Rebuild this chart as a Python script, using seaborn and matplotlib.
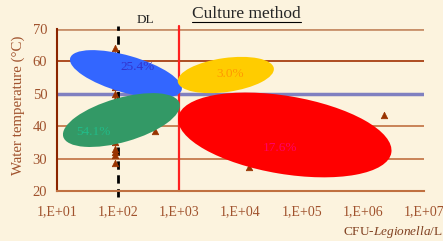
import matplotlib
matplotlib.use('Agg')
import numpy as np
import pandas as pd
import matplotlib.pyplot as plt
import seaborn as sns
from matplotlib.patches import Ellipse
from matplotlib.transforms import ScaledTranslation
from matplotlib.ticker import FixedLocator, MultipleLocator, FuncFormatter

# samples: CFU-Legionella/L vs water temperature
cfu = [90, 90, 90, 90, 90, 90, 90, 90, 90, 90, 90, 90, 90, 90, 90, 90, 90,
       200, 400, 14000, 2200000]
temp = [64, 62, 60, 58, 56, 54, 52, 50, 48, 46, 44, 42, 35, 33, 32, 31, 28.5,
        50, 38.5, 27.5, 43.5]

# clusters: centre (cfu, temp), size in px, angle, share
cl_names = ["blue", "green", "yellow", "red"]
cl_x = [134, 113, 5750, 53000]
cl_y = [56.1, 41.9, 55.8, 37.3]
cl_w = [116, 121, 97, 216]
cl_h = [37, 44, 34, 78]
cl_ang = [-16, 16, 8, -9.5]
cl_fill = ["#3366ff", "#339966", "#ffcc00", "#ff0000"]
cl_txt = ["25.4%", "54.1%", "3.0%", "17.6%"]
cl_txt_col = ["#3333cc", "#22bb88", "#ff9900", "#ff0066"]
cl_txt_dx = [12, -28, 4, -5]
cl_txt_dy = [7, -12, 1, -13]

bg = "#fcf3de"
brown = "#a0522d"

sns.set_style("white")
plt.rcParams['font.family'] = ['Liberation Serif', 'DejaVu Serif']
plt.rcParams['mathtext.fontset'] = 'custom'
plt.rcParams['mathtext.rm'] = 'Liberation Serif'
plt.rcParams['mathtext.it'] = 'Liberation Serif:italic'

fig = plt.figure(figsize=(4.43, 2.41), dpi=100, facecolor=bg)
ax = fig.add_axes([57 / 443, 1 - 191 / 241, 367 / 443, 162 / 241])
ax.set_facecolor(bg)

df = pd.DataFrame({"cfu": cfu, "temp": temp})
sns.scatterplot(data=df, x="cfu", y="temp", marker="^", s=22, color="#993300",
                edgecolor="#993300", linewidth=0.5, ax=ax, zorder=2)

ax.set_xscale("log")
ax.set_xlim(10, 1e7)
ax.set_ylim(20, 70)

# grid lines
for yv, c, lw in [(30, "#c07040", 1.2), (40, "#c07040", 1.2), (60, "#a03000", 1.2), (70, "#c8906a", 2.0)]:
    ax.axhline(yv, color=c, lw=lw, zorder=1)
ax.axhline(50, color="#8080c0", lw=2.5, zorder=1)
ax.axvline(1e3, ymin=0, ymax=1.02, color="#ff2020", lw=1.6, zorder=1, clip_on=False)
ax.plot([100, 100], [18, 71], color="black", lw=2, ls=(0, (3, 2)), zorder=1, clip_on=False)
ax.text(275, 72.8, "DL", fontsize=9.5, ha="center", va="center", color="#222222")

# cluster ellipses
for i in range(len(cl_names)):
    tr = fig.dpi_scale_trans + ScaledTranslation(cl_x[i], cl_y[i], ax.transData)
    e = Ellipse((0, 0), cl_w[i] / 100, cl_h[i] / 100, angle=cl_ang[i],
                facecolor=cl_fill[i], edgecolor="none", transform=tr, zorder=3)
    ax.add_patch(e)
    ax.text(cl_txt_dx[i] / 100, cl_txt_dy[i] / 100, cl_txt[i], transform=tr,
            fontsize=9.5, color=cl_txt_col[i], ha="center", va="center", zorder=4)

# axes styling
for s in ["top", "right"]:
    ax.spines[s].set_visible(False)
ax.spines["left"].set_color("#8b2500")
ax.spines["left"].set_linewidth(1.5)
ax.spines["bottom"].set_color("#c07040")
ax.spines["bottom"].set_linewidth(1.5)

ax.xaxis.set_major_locator(FixedLocator([10 ** k for k in range(1, 8)]))
ax.xaxis.set_minor_locator(FixedLocator([]))
ax.xaxis.set_major_formatter(FuncFormatter(lambda v, p: "1,E+%02d" % int(round(np.log10(v)))))
ax.yaxis.set_major_locator(MultipleLocator(10))
ax.yaxis.set_minor_locator(MultipleLocator(2))
ax.tick_params(axis="x", direction="in", length=4, color="#c07040", labelsize=10,
               labelcolor=brown, pad=10)
ax.tick_params(axis="y", which="major", direction="out", length=5, color="#8b2500",
               labelsize=10.5, labelcolor=brown, pad=2)
ax.tick_params(axis="y", which="minor", direction="in", length=3, color="#8b2500")

ax.set_xlabel("")
ax.set_ylabel("Water temperature (°C)", fontsize=10.7, color=brown)
ax.yaxis.set_label_coords(-0.088, 0.53)

fig.text(246 / 443, 1 - 14 / 241, "Culture method", fontsize=12.5, ha="center", va="center")
fig.add_artist(plt.Line2D([192 / 443, 301 / 443], [1 - 22 / 241, 1 - 22 / 241], color="black", lw=0.8))
fig.text(443 / 443, 1 - 232 / 241, "CFU-$\\mathit{Legionella}$/L", fontsize=9.5, ha="right",
         va="center", color="#804020")

fig.savefig("out.png", dpi=100, facecolor=bg)
